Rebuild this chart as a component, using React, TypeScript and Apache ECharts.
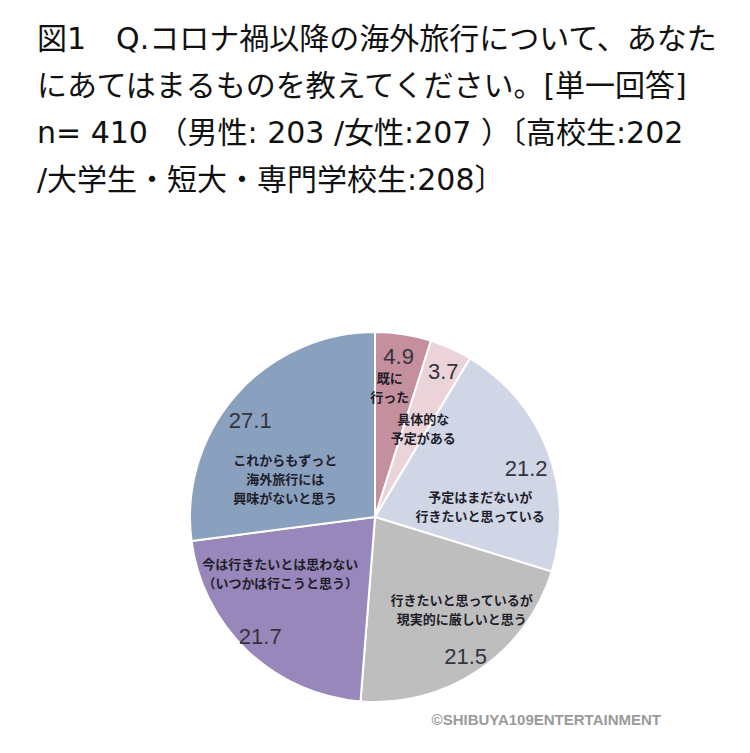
import React, { useEffect, useRef } from "react";
import * as echarts from "echarts";

const titleLines = [
  "図1　Q.コロナ禍以降の海外旅行について、あなた",
  "にあてはまるものを教えてください。[単一回答]",
  "n= 410 （男性: 203 /女性:207 ）〔高校生:202",
  "/大学生・短大・専門学校生:208〕",
];

const categories = [
  "既に\n行った",
  "具体的な\n予定がある",
  "予定はまだないが\n行きたいと思っている",
  "行きたいと思っているが\n現実的に厳しいと思う",
  "今は行きたいとは思わない\n（いつかは行こうと思う）",
  "これからもずっと\n海外旅行には\n興味がないと思う",
];

const values = [4.9, 3.7, 21.2, 21.5, 21.7, 27.1];

const colors = ["#C4909E", "#EBD3DA", "#D0D6E5", "#BEBEBE", "#9887BA", "#8AA0BF"];

// label placement tweaks (layout only)
const nameOffsets = [
  [0, -36],
  [9, -2],
  [16, 23],
  [33, 13],
  [-29, -13],
  [-18, 24],
];
const numberOffsets = [
  [9, -66],
  [29, -58],
  [62, -14],
  [37, 60],
  [-49, 50],
  [-53, -34],
];

const copyright = "©SHIBUYA109ENTERTAINMENT";

export default function App() {
  const ref = useRef<HTMLDivElement>(null);

  useEffect(() => {
    if (!ref.current) return;
    const chart = echarts.init(ref.current, null, { renderer: "svg" });

    const nameData = categories.map((c, i) => ({
      name: c,
      value: values[i],
      itemStyle: { color: colors[i] },
      label: { offset: nameOffsets[i] },
    }));
    const numberData = categories.map((c, i) => ({
      name: c,
      value: values[i],
      label: { offset: numberOffsets[i] },
    }));

    chart.setOption({
      animation: false,
      backgroundColor: "#ffffff",
      title: {
        text: titleLines.join("\n"),
        left: 37,
        top: 15,
        padding: 0,
        textStyle: {
          fontFamily: "'DejaVu Sans', 'Noto Sans CJK JP'",
          fontSize: 30,
          fontWeight: "normal",
          color: "#111111",
          lineHeight: 47,
        },
      },
      graphic: [
        {
          type: "text",
          right: 89,
          top: 712,
          style: {
            text: copyright,
            fontFamily: "Liberation Sans",
            fontSize: 15,
            fontWeight: "bold",
            fill: "#9a9a9a",
          },
        },
      ],
      series: [
        {
          type: "pie",
          center: [375, 517],
          radius: 185,
          startAngle: 90,
          clockwise: true,
          itemStyle: { borderColor: "#ffffff", borderWidth: 2 },
          label: {
            show: true,
            position: "inside",
            rotate: 0,
            formatter: "{b}",
            fontFamily: "Noto Sans CJK JP",
            fontSize: 13,
            fontWeight: "bold",
            lineHeight: 19,
            color: "#1e1e2a",
            align: "center",
            overflow: "none",
          },
          labelLine: { show: false },
          labelLayout: { hideOverlap: false },
          emphasis: { disabled: true },
          data: nameData,
        },
        {
          type: "pie",
          center: [375, 517],
          radius: 185,
          startAngle: 90,
          clockwise: true,
          silent: true,
          itemStyle: { color: "rgba(0,0,0,0)", borderWidth: 0 },
          label: {
            show: true,
            position: "inside",
            rotate: 0,
            formatter: "{c}",
            fontFamily: "Liberation Sans",
            fontSize: 22,
            color: "#34343e",
            overflow: "none",
          },
          labelLine: { show: false },
          labelLayout: { hideOverlap: false },
          emphasis: { disabled: true },
          data: numberData,
        },
      ],
    });

    return () => chart.dispose();
  }, []);

  return (
    <div
      ref={ref}
      style={{ position: "fixed", left: 0, top: 0, width: 750, height: 753, background: "#fff" }}
    />
  );
}
